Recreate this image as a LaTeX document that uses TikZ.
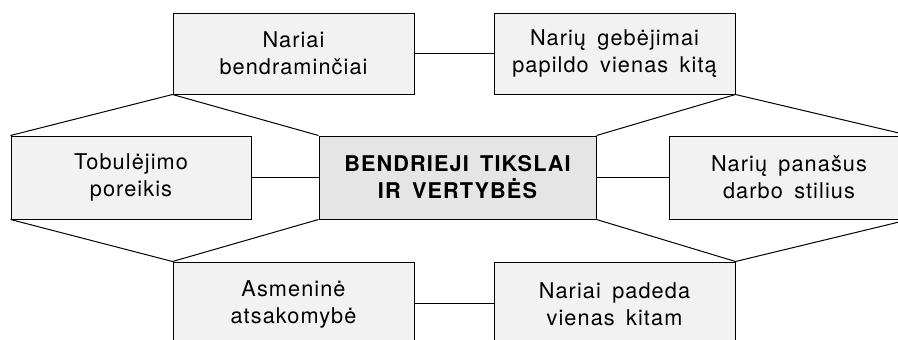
\documentclass[tikz,border=0pt]{standalone}
\usepackage{fontspec}
\setmainfont{TeX Gyre Heros}[LetterSpace=5,WordSpace=1.6]
\usetikzlibrary{positioning}

\begin{document}
\begin{tikzpicture}[x=1pt,y=-1pt,line width=1pt,
		box/.style={draw,fill=gray!10,minimum width=241pt,minimum height=81pt,
			inner sep=0pt,align=center,font=\fontsize{21.7}{27}\selectfont},
		mainbox/.style={box,fill=gray!20,minimum width=277pt,minimum height=83pt,
			font=\fontsize{21.7}{27}\selectfont\bfseries}]
	\useasboundingbox (0,0) rectangle (898,340);
	\node[box] (na) at (293.5,53.5) {Nariai\\bendraminčiai};
	\node[box] (gb) at (614.5,53.5) {Narių gebėjimai\\papildo vienas kitą};
	\node[mainbox] (bt) at (457.5,177.5) {BENDRIEJI TIKSLAI\\IR VERTYBĖS};
	\node[box,minimum width=240pt,minimum height=83pt] (tb) at (131,177.5) {Tobulėjimo\\poreikis};
	\node[box,minimum width=240pt,minimum height=83pt] (ps) at (789,177.5) {Narių panašus\\darbo stilius};
	\node[box,minimum height=84pt] (as) at (293.5,304) {Asmeninė\\atsakomybė};
	\node[box,minimum height=84pt] (pd) at (614.5,304) {Nariai padeda\\vienas kitam};

	\draw (na) -- (gb);
	\draw (tb) -- (bt);
	\draw (bt) -- (ps);
	\draw (as.east |- 0,303) -- (pd.west |- 0,303);
	\draw (tb.north west) -- (na.south west) -- (bt.north west);
	\draw (bt.north east) -- (gb.south east) -- (ps.north east);
	\draw (tb.south west) -- (as.north west) -- (bt.south west);
	\draw (bt.south east) -- (pd.north east) -- (ps.south east);
\end{tikzpicture}
\end{document}
